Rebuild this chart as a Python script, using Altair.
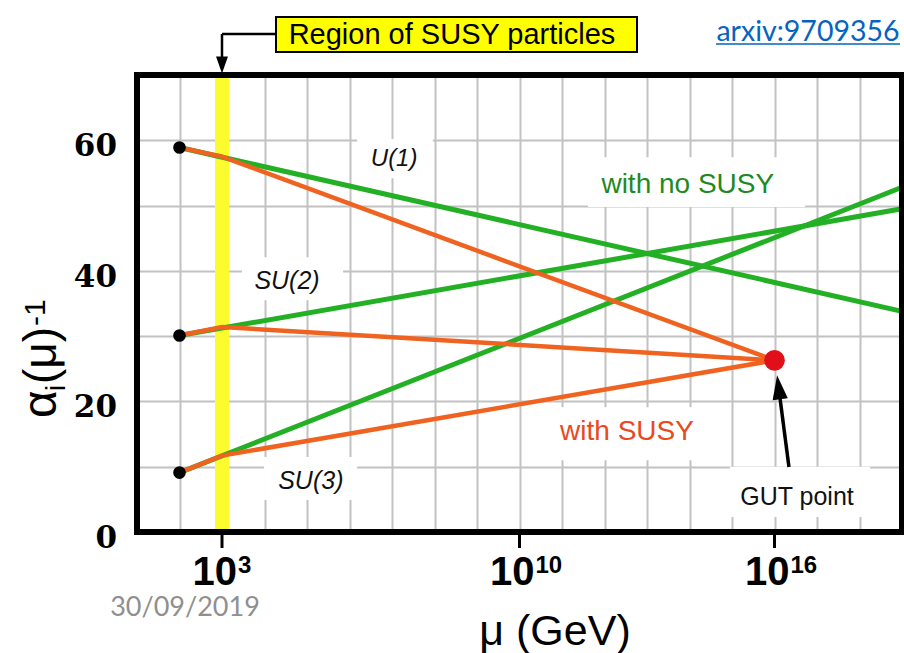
import altair as alt
import pandas as pd

# ---------------- data (x = log10(mu / GeV), y = 1/alpha_i) ----------------
groups = ["U(1)", "SU(2)", "SU(3)"]
mz_log = 2.0
susy_log = 3.0
gut_log = 16.0
end_log = 19.0
alpha_mz = [58.9, 30.1, 9.1]
alpha_susy = [57.5, 31.4, 11.7]
alpha_end_sm = [33.8, 49.5, 52.8]
alpha_gut = 26.3

x_ticks = [3, 10, 16]
x_tick_exp = ["3", "10", "16"]
y_label_vals = [0, 20, 40, 60]
grid_x = list(range(2, 19))
grid_y = list(range(10, 70, 10))

# in-plot annotations (data units)
group_label_x = [7.05, 4.53, 5.09]
group_label_y = [57.1, 38.4, 7.8]
group_label_size = [24, 25, 25]
note_text = ["with no SUSY", "with SUSY", "GUT point"]
note_color = ["#1f8a1f", "#e8491d", "#111111"]
note_size = [28, 28, 25]
note_x = [13.96, 12.53, 16.53]
note_y = [53.1, 15.3, 5.36]
box_x1 = [6.18, 3.47, 3.99, 11.61, 10.25, 14.95]
box_x2 = [7.96, 5.85, 6.18, 16.72, 14.95, 18.25]
box_y1 = [54.2, 35.5, 4.9, 49.8, 11.0, 2.3]
box_y2 = [60.2, 42.1, 11.5, 57.4, 19.1, 10.0]
gut_arrow = {"x": 16.34, "y": 9.96, "x2": 16.12, "y2": 21.0}
gut_head = {"x": 16.10, "y": 22.07}

GREEN = "#24b024"
ORANGE = "#f0621f"

# ---------------- tables ----------------
sm_rows = []
susy_rows = []
for g, a0, a1, a2 in zip(groups, alpha_mz, alpha_susy, alpha_end_sm):
    sm_rows += [{"g": g, "x": mz_log, "y": a0}, {"g": g, "x": end_log, "y": a2}]
    susy_rows += [{"g": g, "x": mz_log, "y": a0}, {"g": g, "x": susy_log, "y": a1},
                  {"g": g, "x": gut_log, "y": alpha_gut}]
sm_df = pd.DataFrame(sm_rows)
susy_df = pd.DataFrame(susy_rows)
dots_df = pd.DataFrame({"x": [mz_log] * 3, "y": alpha_mz})
gut_df = pd.DataFrame({"x": [gut_log], "y": [alpha_gut]})
boxes_df = pd.DataFrame({"x": box_x1, "x2": box_x2, "y": box_y1, "y2": box_y2})
ticks_df = pd.DataFrame({"x": x_ticks, "e": x_tick_exp})
ylab_df = pd.DataFrame({"y": y_label_vals, "t": [str(v) for v in y_label_vals]})
one = pd.DataFrame({"k": [0]})

XS = alt.Scale(domain=[1, 19], nice=False, zero=False)
YS = alt.Scale(domain=[0, 70], nice=False, zero=False)
XA = alt.Axis(values=grid_x, grid=True, gridColor="#c2c2c2", gridWidth=2,
              labels=False, ticks=False, domain=False, title=None)
YA = alt.Axis(values=grid_y, grid=True, gridColor="#c2c2c2", gridWidth=2,
              labels=False, ticks=False, domain=False, title=None)


def X(f="x"):
    return alt.X(f, type="quantitative", scale=XS, axis=XA)


def Y(f="y"):
    return alt.Y(f, type="quantitative", scale=YS, axis=YA)


layers = []

# white label backgrounds (hide grid)
layers.append(alt.Chart(boxes_df).mark_rect(color="white").encode(
    x=X(), x2="x2:Q", y=Y(), y2="y2:Q"))

# yellow SUSY band
layers.append(alt.Chart(pd.DataFrame({"x": [susy_log], "y": [0], "y2": [70]})).mark_rule(
    color="#fbfb2e", strokeWidth=14).encode(x=X(), y=Y(), y2="y2:Q"))

# SM running (green)
layers.append(alt.Chart(sm_df).mark_line(color=GREEN, strokeWidth=5).encode(
    x=X(), y=Y(), detail="g:N"))
# MSSM running (orange)
layers.append(alt.Chart(susy_df).mark_line(color=ORANGE, strokeWidth=4.5).encode(
    x=X(), y=Y(), detail="g:N"))

# dots
layers.append(alt.Chart(dots_df).mark_circle(color="black", size=160, opacity=1).encode(
    x=X(), y=Y()))
layers.append(alt.Chart(gut_df).mark_circle(color="#e0101a", size=430, opacity=1).encode(
    x=X(), y=Y()))

# group labels
for t, s, gx, gy in zip(groups, group_label_size, group_label_x, group_label_y):
    layers.append(alt.Chart(pd.DataFrame({"x": [gx], "y": [gy], "t": [t]})).mark_text(
        font="Liberation Sans", fontStyle="italic", fontSize=s, color="#111111",
        baseline="middle", align="center").encode(x=X(), y=Y(), text="t:N"))

# notes
for t, c, s, nx, ny in zip(note_text, note_color, note_size, note_x, note_y):
    layers.append(alt.Chart(pd.DataFrame({"x": [nx], "y": [ny], "t": [t]})).mark_text(
        font="Liberation Sans", fontSize=s, color=c, baseline="middle", align="center"
    ).encode(x=X(), y=Y(), text="t:N"))

# GUT arrow
layers.append(alt.Chart(pd.DataFrame([gut_arrow])).mark_rule(
    color="black", strokeWidth=3.5).encode(x=X(), y=Y(), x2="x2:Q", y2="y2:Q"))
layers.append(alt.Chart(pd.DataFrame([gut_head])).mark_point(
    shape="M0,-1L0.6,0.9L-0.6,0.9Z", filled=True, color="black", size=650,
    angle=352.6, opacity=1).encode(x=X(), y=Y()))

# frame
layers.append(alt.Chart(pd.DataFrame({"x": [1], "x2": [19], "y": [0], "y2": [70]})).mark_rect(
    fillOpacity=0, stroke="black", strokeWidth=6).encode(x=X(), x2="x2:Q", y=Y(), y2="y2:Q"))

# x ticks
layers.append(alt.Chart(ticks_df).mark_rule(color="black", strokeWidth=3).encode(
    x=X(), y=alt.value(457), y2=alt.value(473)))
# x tick labels: "10" + exponent
layers.append(alt.Chart(ticks_df).mark_text(
    text="10", font="Liberation Sans", fontWeight="bold", fontSize=40, color="black",
    align="right", baseline="alphabetic", dx=15).encode(x=X(), y=alt.value(510)))
layers.append(alt.Chart(ticks_df).mark_text(
    font="Liberation Sans", fontWeight="bold", fontSize=24, color="black",
    align="left", baseline="alphabetic", dx=16).encode(x=X(), y=alt.value(498), text="e:N"))

# y tick labels
layers.append(alt.Chart(ylab_df).mark_text(
    font="DejaVu Serif", fontWeight="bold", fontSize=31, color="black",
    align="right", baseline="middle", dy=7).encode(x=alt.value(-20), y=Y(), text="t:N"))

# y title pieces (rotated)
yt_text = ["\u03b1", "i", "(\u03bc)", "-1"]
yt_size = [48, 28, 46, 30]
yt_px = [-81, -72, -81, -92]
yt_py = [343, 316, 309, 251]
for t, s, px, py in zip(yt_text, yt_size, yt_px, yt_py):
    layers.append(alt.Chart(one).mark_text(
        text=t, font="Liberation Sans", fontSize=s, color="black", angle=270,
        align="left", baseline="alphabetic").encode(x=alt.value(px), y=alt.value(py)))

# x title
layers.append(alt.Chart(one).mark_text(
    text="\u03bc (GeV)", font="Liberation Sans", fontSize=43, color="black",
    align="center", baseline="alphabetic").encode(x=alt.value(418), y=alt.value(570)))

# date
layers.append(alt.Chart(one).mark_text(
    text="30/09/2019", font="Lato", fontSize=27, color="#8f8f8f",
    align="center", baseline="middle").encode(x=alt.value(48), y=alt.value(533)))

# arxiv link
layers.append(alt.Chart(one).mark_text(
    text="arxiv:9709356", font="Lato", fontSize=28.5, color="#0563c1",
    align="center", baseline="middle").encode(x=alt.value(671), y=alt.value(-43)))
layers.append(alt.Chart(one).mark_rule(color="#0563c1", strokeWidth=1.5).encode(
    x=alt.value(579), x2=alt.value(763), y=alt.value(-31)))

# callout box "Region of SUSY particles"
layers.append(alt.Chart(one).mark_rect(
    fill="#ffff00", stroke="black", strokeWidth=2).encode(
    x=alt.value(139), x2=alt.value(500), y=alt.value(-58), y2=alt.value(-23)))
layers.append(alt.Chart(one).mark_text(
    text="Region of SUSY particles", font="Liberation Sans", fontSize=29, color="black",
    align="center", baseline="middle").encode(x=alt.value(315), y=alt.value(-40)))
layers.append(alt.Chart(one).mark_rule(color="black", strokeWidth=2.5).encode(
    x=alt.value(85), x2=alt.value(139), y=alt.value(-41)))
layers.append(alt.Chart(one).mark_rule(color="black", strokeWidth=2.5).encode(
    x=alt.value(85), y=alt.value(-41), y2=alt.value(-14)))
layers.append(alt.Chart(one).mark_point(
    shape="M-0.7,-1L0.7,-1L0,1Z", filled=True, color="black", size=290, opacity=1).encode(
    x=alt.value(85), y=alt.value(-10)))

chart = alt.layer(*layers).properties(
    width=765, height=457,
    autosize=alt.AutoSizeParams(type="none"),
    padding={"left": 137, "top": 75, "right": 2, "bottom": 121},
    background="white",
).configure_view(stroke=None)

chart.save("out.html", embed_options={"renderer": "svg", "actions": False})
